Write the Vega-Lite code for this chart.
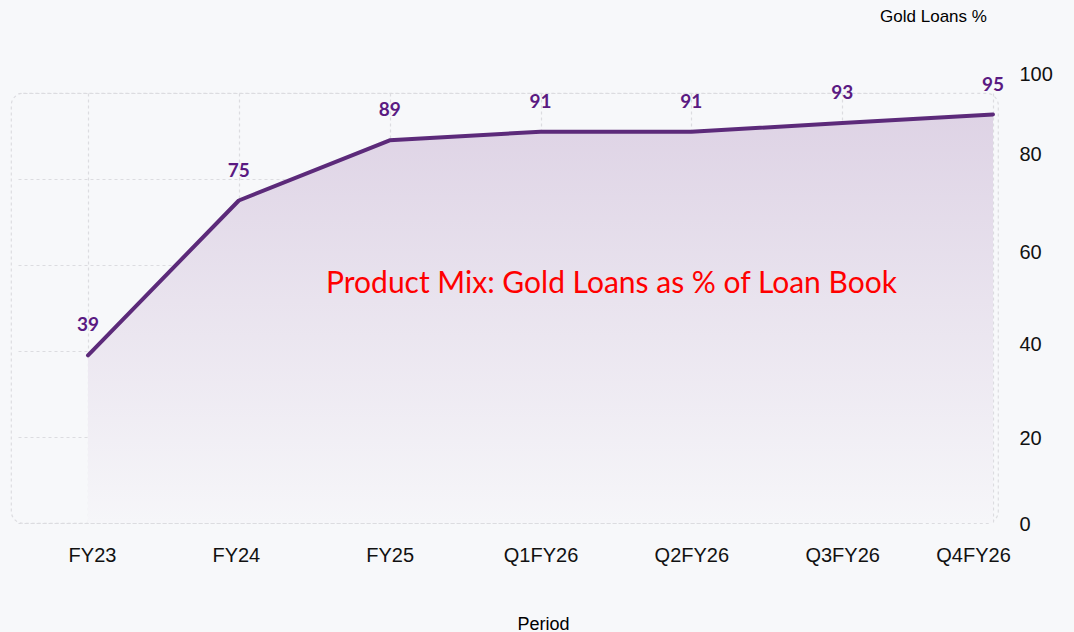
{
  "$schema": "https://vega.github.io/schema/vega-lite/v6.json",
  "autosize": "none",
  "width": 987,
  "height": 430,
  "padding": {"left": 11, "top": 93, "right": 76, "bottom": 109},
  "background": "#f7f8fa",
  "title": {
    "text": "Product Mix: Gold Loans as % of Loan Book",
    "color": "#ff0000",
    "font": "Lato",
    "fontSize": 30,
    "fontWeight": "normal",
    "anchor": "middle",
    "frame": "group",
    "dx": 107,
    "dy": 292,
    "offset": 0
  },
  "config": {
    "view": {"stroke": "#dcdce0", "strokeDash": [3, 3], "strokeWidth": 1.2, "cornerRadius": 12},
    "font": "Liberation Sans"
  },
  "data": {
    "values": [
      {"period": "FY23", "value": 39},
      {"period": "FY24", "value": 75},
      {"period": "FY25", "value": 89},
      {"period": "Q1FY26", "value": 91},
      {"period": "Q2FY26", "value": 91},
      {"period": "Q3FY26", "value": 93},
      {"period": "Q4FY26", "value": 95}
    ]
  },
  "encoding": {
    "x": {
      "field": "period",
      "type": "ordinal",
      "sort": null,
      "scale": {"type": "point", "range": [77, 982], "padding": 0},
      "axis": {
        "title": "Period",
        "titleFontSize": 18,
        "titleFontWeight": "normal",
        "titleColor": "#000000",
        "titleFont": "Liberation Sans",
        "titleY": 101,
        "titleX": 532,
        "titleBaseline": "middle",
        "labelAngle": 0,
        "labelFontSize": 20,
        "labelColor": "#111111",
        "labelFont": "Liberation Sans",
        "labelPadding": 22,
        "labelOffset": {
          "condition": [
            {"test": "datum.label == 'Q4FY26'", "value": -20},
            {"test": "datum.label == 'FY23'", "value": 4},
            {"test": "datum.label == 'FY24'", "value": -3}
          ],
          "value": 0
        },
        "labelBound": false,
        "labelOverlap": false,
        "ticks": false,
        "domain": false,
        "grid": true,
        "gridColor": "#dcdce0",
        "gridDash": [3, 3],
        "gridWidth": 1.2
      }
    },
    "y": {
      "field": "value",
      "type": "quantitative",
      "scale": {"domain": [0, 100], "nice": false},
      "axis": {
        "orient": "right",
        "values": [0, 20, 40, 60, 80, 100],
        "title": "Gold Loans %",
        "titleAngle": 0,
        "titleFontSize": 17,
        "titleFontWeight": "normal",
        "titleColor": "#000000",
        "titleFont": "Liberation Sans",
        "titleX": -65,
        "titleY": -77,
        "titleAlign": "center",
        "titleBaseline": "middle",
        "labelFontSize": 20,
        "labelColor": "#111111",
        "labelFont": "Liberation Sans",
        "labelPadding": 21,
        "labelAlign": "left",
        "labelOffset": {
          "condition": [
            {"test": "datum.value == 100", "value": -19},
            {"test": "datum.value == 80", "value": -25},
            {"test": "datum.value == 60", "value": -13},
            {"test": "datum.value == 40", "value": -7}
          ],
          "value": 1
        },
        "ticks": false,
        "domain": false,
        "grid": true,
        "gridColor": "#dcdce0",
        "gridDash": [3, 3],
        "gridWidth": 1.2
      }
    }
  },
  "layer": [
    {
      "mark": {
        "type": "area",
        "interpolate": "linear",
        "color": {
          "gradient": "linear",
          "x1": 0, "y1": 0, "x2": 0, "y2": 1,
          "stops": [
            {"offset": 0, "color": "#ded3e5"},
            {"offset": 1, "color": "#f6f6f9"}
          ]
        }
      }
    },
    {
      "mark": {"type": "line", "interpolate": "linear", "color": "#5c2a7a", "strokeWidth": 4, "strokeCap": "round", "strokeJoin": "round"}
    },
    {
      "mark": {"type": "text", "dy": -30, "font": "Lato", "fontWeight": "bold", "fontSize": 19, "color": "#5a1a82"},
      "encoding": {"text": {"field": "value", "type": "quantitative"}}
    }
  ]
}
